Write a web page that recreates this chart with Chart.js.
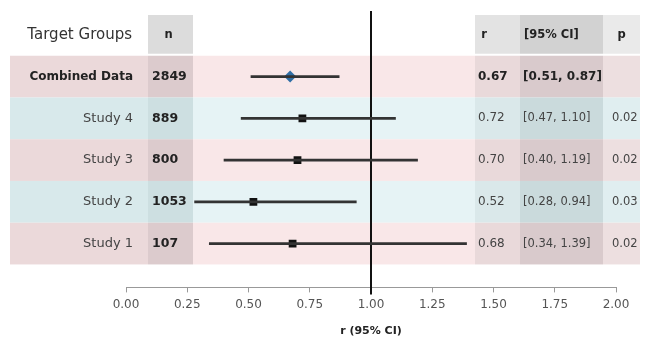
<!DOCTYPE html>
<html>
<head>
<meta charset="utf-8">
<script src="https://cdn.jsdelivr.net/npm/chart.js@4"></script>
<style>
  html, body { margin: 0; padding: 0; background: #fff; }
  #wrap { width: 645px; height: 338px; }
</style>
</head>
<body>
<div id="wrap"><canvas id="forest"></canvas></div>
<script>
// rows, top to bottom
const groups = ['Combined Data', 'Study 4', 'Study 3', 'Study 2', 'Study 1'];
const nValues = ['2849', '889', '800', '1053', '107'];
const rValues = [0.67, 0.72, 0.70, 0.52, 0.68];
const ciLow = [0.51, 0.47, 0.40, 0.28, 0.34];
const ciHigh = [0.87, 1.10, 1.19, 0.94, 1.39];
const ciLabels = ['[0.51, 0.87]', '[0.47, 1.10]', '[0.40, 1.19]', '[0.28, 0.94]', '[0.34, 1.39]'];
const pValues = ['', '0.02', '0.02', '0.03', '0.02'];
const headers = { group: 'Target Groups', n: 'n', r: 'r', ci: '[95% CI]', p: 'p' };
const nullValue = 1;

const FONT = '"DejaVu Sans", sans-serif';

// row colours: pink / blue alternating
const rowColors = {
    pink: { label: '#ebd9da', n: '#dccbcd', plot: '#f9e7e8', r: '#e9d9da', ci: '#d9cacc', p: '#eddfe0' },
    blue: { label: '#d8e9eb', n: '#cddfe1', plot: '#e6f3f5', r: '#dae8ea', ci: '#cadadc', p: '#e0eef0' }
};
const headerColors = { n: '#dcdcdc', r: '#e3e3e3', ci: '#d2d2d2', p: '#eaeaea' };

const tablePlugin = {
    id: 'tablePlugin',
    beforeDatasetsDraw(chart) {
        const { ctx, chartArea, scales } = chart;
        const x = scales.x, y = scales.y;
        const L = chartArea.left;
        // column edges in px
        const cols = {
            label: [10, L + 22],
            n: [L + 22, L + 67],
            plot: [L + 67, L + 349],
            r: [L + 349, L + 394],
            ci: [L + 394, L + 477],
            p: [L + 477, 640]
        };
        ctx.save();

        // header boxes
        const hTop = y.getPixelForValue(-0.5) + 1, hBot = y.getPixelForValue(0.5) - 2;
        ['n', 'r', 'ci', 'p'].forEach(k => {
            ctx.fillStyle = headerColors[k];
            ctx.fillRect(cols[k][0], hTop, cols[k][1] - cols[k][0], hBot - hTop);
        });

        // row backgrounds
        groups.forEach((g, i) => {
            const top = y.getPixelForValue(i + 0.5), bot = y.getPixelForValue(i + 1.5);
            const c = i % 2 === 0 ? rowColors.pink : rowColors.blue;
            Object.keys(cols).forEach(k => {
                ctx.fillStyle = c[k];
                ctx.fillRect(cols[k][0], top, cols[k][1] - cols[k][0], bot - top);
            });
        });

        // header text
        const hy = y.getPixelForValue(0);
        ctx.textBaseline = 'middle';
        ctx.fillStyle = '#333';
        ctx.font = '15px ' + FONT;
        ctx.textAlign = 'right';
        ctx.fillText(headers.group, cols.label[1] - 16, hy);
        ctx.fillStyle = '#222';
        ctx.font = 'bold 11.5px ' + FONT;
        ctx.textAlign = 'center';
        ctx.fillText(headers.n, (cols.n[0] + cols.n[1]) / 2 - 2, hy);
        ctx.fillText(headers.r, cols.r[0] + 9, hy);
        ctx.fillText(headers.p, (cols.p[0] + cols.p[1]) / 2, hy);
        ctx.textAlign = 'left';
        ctx.fillText(headers.ci, cols.ci[0] + 4, hy);

        // row text
        groups.forEach((g, i) => {
            const cy = y.getPixelForValue(i + 1);
            const bold = i === 0;
            ctx.fillStyle = bold ? '#222' : '#444';
            ctx.textAlign = 'right';
            ctx.font = (bold ? 'bold 12px ' : '13px ') + FONT;
            ctx.fillText(g, cols.label[1] - 15, cy);
            ctx.textAlign = 'left';
            ctx.fillStyle = '#222';
            ctx.font = 'bold 12.5px ' + FONT;
            ctx.fillText(nValues[i], cols.n[0] + 4, cy);
            ctx.fillStyle = bold ? '#222' : '#444';
            ctx.font = (bold ? 'bold 12px ' : '12px ') + FONT;
            ctx.fillText(rValues[i].toFixed(2), cols.r[0] + 3, cy);
            if (!bold) ctx.font = '11.5px ' + FONT;
            ctx.fillText(ciLabels[i], cols.ci[0] + 3, cy);
            ctx.fillText(pValues[i], cols.p[0] + 9, cy);
        });

        // line of no effect
        const vx = x.getPixelForValue(nullValue);
        ctx.strokeStyle = '#111';
        ctx.lineWidth = 2;
        ctx.beginPath();
        ctx.moveTo(vx, chartArea.top - 3);
        ctx.lineTo(vx, chartArea.bottom + 7);
        ctx.stroke();
        ctx.restore();
    }
};

new Chart(document.getElementById('forest'), {
    type: 'bar',
    data: {
        datasets: [{
            label: '95% CI',
            indexAxis: 'y',
            data: groups.map((g, i) => ({ x: [ciLow[i], ciHigh[i]], y: i + 1 })),
            backgroundColor: '#333',
            barThickness: 2,
            borderWidth: 0
        }, {
            type: 'scatter',
            label: 'r',
            data: groups.map((g, i) => ({ x: rValues[i], y: i + 1 })),
            pointStyle: groups.map((g, i) => i === 0 ? 'rectRot' : 'rect'),
            pointRadius: groups.map((g, i) => i === 0 ? 6 : 5.5),
            backgroundColor: groups.map((g, i) => i === 0 ? '#2f6ea5' : '#111'),
            borderColor: groups.map((g, i) => i === 0 ? '#2f6ea5' : '#111'),
            borderWidth: 0,
            showLine: false
        }]
    },
    options: {
        responsive: true,
        maintainAspectRatio: false,
        animation: false,
        events: [],
        layout: { padding: { left: 126, right: 29, top: 14, bottom: 0 } },
        plugins: {
            legend: { display: false },
            tooltip: { enabled: false }
        },
        scales: {
            x: {
                type: 'linear',
                offset: false,
                min: 0,
                max: 2,
                ticks: {
                    stepSize: 0.25,
                    color: '#555',
                    font: { family: FONT, size: 12 },
                    padding: 5,
                    callback: v => v.toFixed(2)
                },
                grid: { display: true, offset: false, drawOnChartArea: false, drawTicks: true, tickLength: 5, color: '#999' },
                border: { display: true, color: '#999' },
                title: {
                    display: true,
                    text: 'r (95% CI)',
                    color: '#222',
                    font: { family: FONT, size: 11, weight: 'bold' },
                    padding: { top: 8, bottom: 0 }
                }
            },
            y: {
                type: 'linear',
                offset: false,
                reverse: true,
                min: -0.5,
                max: 6.05,
                display: false
            }
        }
    },
    plugins: [tablePlugin]
});
</script>
</body>
</html>
